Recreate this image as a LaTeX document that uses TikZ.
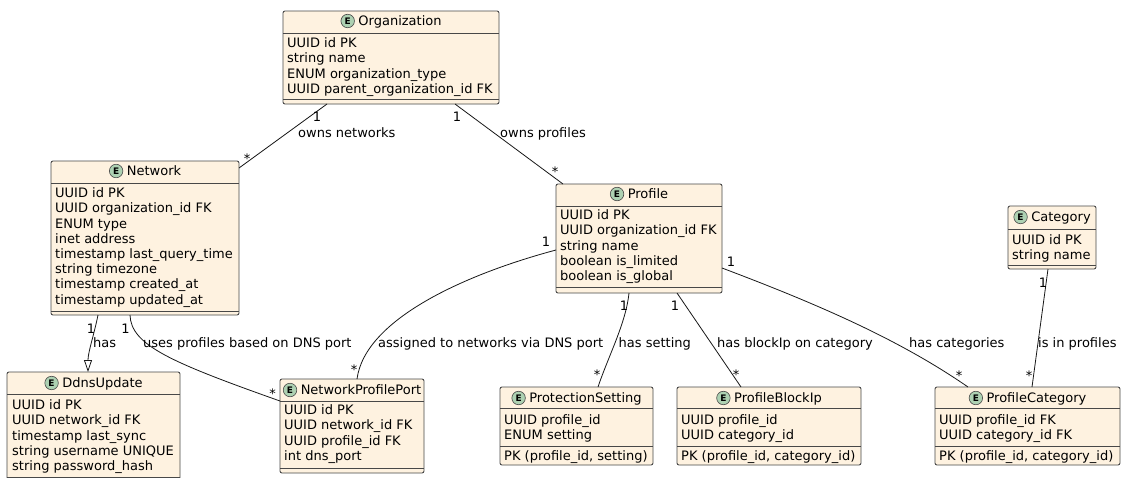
\documentclass[tikz,border=0pt]{standalone}
\usepackage{fontspec}
\setmainfont{DejaVu Sans}
\usetikzlibrary{arrows.meta,calc}

\definecolor{entfill}{RGB}{254,242,224}
\definecolor{entline}{RGB}{72,72,72}
\definecolor{entmark}{RGB}{173,209,178}
\definecolor{linkcol}{RGB}{24,24,24}

\tikzset{
  txt/.style={font=\fontsize{13}{15.2}\selectfont, inner sep=0pt},
  entbox/.style={draw=entline, fill=entfill, line width=0.9pt, rounded corners=2pt,
                 inner sep=0pt, outer sep=0pt},
  sepline/.style={draw=entline, line width=0.9pt},
  etitle/.style={txt, anchor=base},
  attr/.style={txt, anchor=base west},
  emark/.style={circle, draw=entline, fill=entmark, line width=0.6pt, minimum size=13.5pt,
                inner sep=0pt, font=\bfseries\fontsize{9}{9}\selectfont},
  link/.style={draw=linkcol, line width=0.8pt},
  mult/.style={txt, anchor=base},
  rel/.style={txt, anchor=base west},
  inherit/.style={-{Triangle[open, length=12pt, width=8pt, line width=0.8pt]}},
}

% entity frame: name, left, top, right, bottom, header rule, title, title centre
\newcommand\entity[8]{%
  \node[entbox, anchor=north west, minimum width={#4pt-#2pt}, minimum height={#5pt-#3pt}]
    (#1) at (#2,#3) {};
  \draw[sepline] (#2,#6) -- (#4,#6);
  \node[etitle] (#1-title) at ({(#2+#4)/2+9},{#8+4.7}) {#7};
  \node[emark, anchor=east] (#1-mark) at ($(#1-title.base west)+(-3.5,-4.7)$) {E};
}
% attribute lines: prefix, left, first baseline, list
\newcommand\attrs[4]{%
  \foreach \t [count=\i] in {#4}
    \node[attr] (#1-\i) at (#2,{#3+(\i-1)*15.2}) {\t};
}

\begin{document}
\begin{tikzpicture}[x=1pt,y=-1pt]
\useasboundingbox (0,0) rectangle (1124,477);
\clip (0,0) rectangle (1124,477);
\fill[white] (0,0) rectangle (1124,477);

% ---------- entities ----------
\entity{org}{283}{11}{499}{104}{33}{Organization}{21}
\attrs{org-a}{287}{47.7}{UUID id PK, string name, ENUM organization\_type, UUID parent\_organization\_id FK}
\draw[sepline] (283,99) -- (499,99);

\entity{net}{51}{161}{239}{315}{183}{Network}{171}
\attrs{net-a}{55}{197.7}{UUID id PK, UUID organization\_id FK, ENUM type, inet address, timestamp last\_query\_time, string timezone, timestamp created\_at, timestamp updated\_at}
\draw[sepline] (51,311) -- (239,311);

\entity{ddns}{7}{372}{180}{482}{394}{DdnsUpdate}{383}
\attrs{ddns-a}{12}{409.7}{UUID id PK, UUID network\_id FK, timestamp last\_sync, string username UNIQUE, string password\_hash}
\draw[sepline] (7,477) -- (180,477);

\entity{npp}{280}{379}{424}{473}{401}{NetworkProfilePort}{390}
\attrs{npp-a}{284}{414.7}{UUID id PK, UUID network\_id FK, UUID profile\_id FK, int dns\_port}
\draw[sepline] (280,468) -- (424,468);

\entity{profile}{556}{184}{722}{293}{206}{Profile}{194}
\attrs{profile-a}{560}{219.7}{UUID id PK, UUID organization\_id FK, string name, boolean is\_limited, boolean is\_global}
\draw[sepline] (556,287.5) -- (722,287.5);

\entity{ps}{500}{387}{653}{465}{408.5}{ProtectionSetting}{398}
\attrs{ps-a}{504}{424}{UUID profile\_id, ENUM setting}
\draw[sepline] (500,446) -- (653,446);
\node[attr] (ps-pk) at (504,460.7) {PK (profile\_id, setting)};

\entity{pbi}{677}{387}{861}{465}{408.5}{ProfileBlockIp}{398}
\attrs{pbi-a}{681}{424}{UUID profile\_id, UUID category\_id}
\draw[sepline] (677,446) -- (861,446);
\node[attr] (pbi-pk) at (681,460.7) {PK (profile\_id, category\_id)};

\entity{cat}{1008}{206}{1096}{269}{229}{Category}{217}
\attrs{cat-a}{1012}{244.4}{UUID id PK, string name}
\draw[sepline] (1008,265) -- (1096,265);

\entity{pc}{935}{387}{1120}{465}{408.5}{ProfileCategory}{398}
\attrs{pc-a}{939}{424}{UUID profile\_id FK, UUID category\_id FK}
\draw[sepline] (935,446) -- (1120,446);
\node[attr] (pc-pk) at (939,460.7) {PK (profile\_id, category\_id)};

% ---------- relations ----------
\draw[link] ($(org.south west)+(44,0)$) -- ($(net.north east)+(0,7)$);
\node[mult] (m-on-1) at (317,121.8) {1};
\node[rel]  (r-on)   at (298,137) {owns networks};
\node[mult] (m-on-n) at (247,163.7) {*};

\draw[link] ($(org.south west)+(172,0)$) -- ($(profile.north west)+(7,0)$);
\node[mult] (m-op-1) at (457,121.8) {1};
\node[rel]  (r-op)   at (500,137) {owns profiles};
\node[mult] (m-op-n) at (555,176) {*};

\draw[link, inherit] ($(net.south west)+(47,0)$) .. controls +(-4,20) and +(0,-20) .. ($(ddns.north west)+(81,0)$);
\node[mult] (m-nd-1) at (91,333) {1};
\node[rel]  (r-nd)   at (93,347.5) {has};

\draw[link] ($(net.south west)+(79,0)$) .. controls +(1,30) and +(-110,-39) .. ($(npp.north west)+(0,22)$);
\node[mult] (m-nn-1) at (125.5,333) {1};
\node[rel]  (r-nn)   at (143,347.5) {uses profiles based on DNS port};
\node[mult] (m-nn-n) at (272.5,398) {*};

\draw[link] ($(profile.north west)+(0,66)$) .. controls +(-90,24) and +(8,-60) .. ($(npp.north west)+(77,0)$);
\node[mult] (m-pn-1) at (546,246.5) {1};
\node[rel]  (r-pn)   at (378,347.5) {assigned to networks via DNS port};
\node[mult] (m-pn-n) at (354,374.5) {*};

\draw[link] ($(profile.south west)+(73,0)$) .. controls +(-3,30) and +(10,-30) .. ($(ps.north west)+(98,0)$);
\node[mult] (m-ps-1) at (624,310) {1};
\node[rel]  (r-ps)   at (618.5,347.5) {has setting};
\node[mult] (m-ps-n) at (597,379.5) {*};

\draw[link] ($(profile.south west)+(121,0)$) -- ($(pbi.north west)+(64,0)$);
\node[mult] (m-pb-1) at (675,310) {1};
\node[rel]  (r-pb)   at (717,347.5) {has blockIp on category};
\node[mult] (m-pb-n) at (736,379.5) {*};

\draw[link] ($(profile.north east)+(0,84)$) .. controls +(98,37) and +(-68,-47) .. ($(pc.north west)+(33,0)$);
\node[mult] (m-pc-1) at (731,266.5) {1};
\node[rel]  (r-pc)   at (909,347.5) {has categories};
\node[mult] (m-pc-n) at (959,380.5) {*};

\draw[link] ($(cat.south west)+(40,0)$) -- ($(pc.north west)+(97,0)$);
\node[mult] (m-cc-1) at (1043,287.5) {1};
\node[rel]  (r-cc)   at (1038,347.5) {is in profiles};
\node[mult] (m-cc-n) at (1029,380.5) {*};
\end{tikzpicture}
\end{document}
